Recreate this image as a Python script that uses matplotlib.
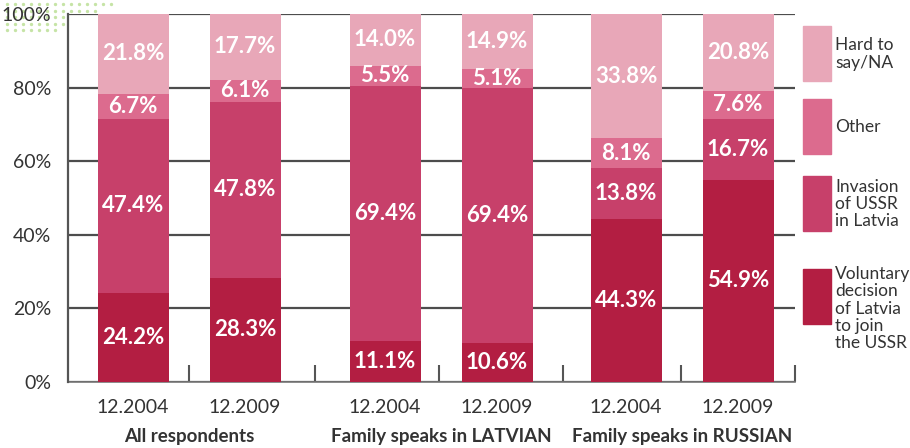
import matplotlib.pyplot as plt
import matplotlib.patches as mpatches
import numpy as np

plt.rcParams['font.family'] = ['Lato', 'DejaVu Sans']

years = ['12.2004', '12.2009', '12.2004', '12.2009', '12.2004', '12.2009']
groups = ['All respondents', 'Family speaks in LATVIAN', 'Family speaks in RUSSIAN']

voluntary = [24.2, 28.3, 11.1, 10.6, 44.3, 54.9]
invasion = [47.4, 47.8, 69.4, 69.4, 13.8, 16.7]
other = [6.7, 6.1, 5.5, 5.1, 8.1, 7.6]
hard = [21.8, 17.7, 14.0, 14.9, 33.8, 20.8]

series = [voluntary, invasion, other, hard]
names = ['Voluntary\ndecision\nof Latvia\nto join\nthe USSR', 'Invasion\nof USSR\nin Latvia', 'Other', 'Hard to\nsay/NA']
colors = ['#b31e42', '#c7406a', '#dc6b8e', '#e8a7b8']

W, H = 910, 448
fig = plt.figure(figsize=(W / 100, H / 100), dpi=100)
ax = fig.add_axes([68 / W, (H - 382) / H, (795 - 68) / W, (382 - 14) / H])

group_x = np.array([121, 373, 614])
pos = np.ravel([[g - 56, g + 56] for g in group_x])
bw = 71

bottom = np.zeros(len(pos))
for vals, c in zip(series, colors):
    vals = np.array(vals)
    ax.bar(pos, vals, bw, bottom=bottom, color=c, zorder=3)
    for x, b, v in zip(pos, bottom, vals):
        ax.text(x, b + v / 2, f'{v:.1f}%', ha='center', va='center', color='white',
                fontsize=16, fontweight='bold', zorder=4)
    bottom += vals

ax.set_xlim(0, 727)
ax.set_ylim(0, 100)
ax.set_yticks([0, 20, 40, 60, 80, 100])
ax.set_yticklabels(['0%', '20%', '40%', '60%', '80%', '100%'], fontsize=14, color='#333333')
ax.tick_params(axis='y', length=0, pad=12)
ax.grid(axis='y', color='#4d4d4d', linewidth=1.6, zorder=1)

ax.set_xticks(pos)
ax.set_xticklabels(years, fontsize=14, color='#333333')
ax.tick_params(axis='x', which='major', length=0, pad=12)
ax.set_xticks([121, 247, 371, 495, 613, 727], minor=True)
ax.tick_params(axis='x', which='minor', direction='in', length=12, width=1.5, color='#555555')

for x, g in zip(group_x, groups):
    ax.text(x, -0.147, g, transform=ax.get_xaxis_transform(), ha='center', va='center',
            fontsize=13.5, fontweight='bold', color='#333333')

for s in ['top', 'right']:
    ax.spines[s].set_visible(False)
ax.spines['left'].set_color('#555555')
ax.spines['left'].set_linewidth(1.6)
ax.spines['bottom'].set_color('#777777')
ax.spines['bottom'].set_linewidth(1.2)
ax.spines['left'].set_zorder(5)

# legend drawn by hand
tops = [26, 99, 176, 269]
for t, c, n in zip(tops, colors[::-1], names[::-1]):
    fig.patches.append(mpatches.Rectangle((803 / W, 1 - (t + 55) / H), 28 / W, 55 / H,
                                          color=c, transform=fig.transFigure))
    if n.startswith('Voluntary'):
        fig.text(835 / W, 1 - (t - 3) / H, n, ha='left', va='top', fontsize=12.5,
                 color='#333333', linespacing=1.1)
    else:
        fig.text(835 / W, 1 - (t + 28) / H, n, ha='left', va='center', fontsize=12.5,
                 color='#333333', linespacing=1.1)

# green dotted decoration in the corner
for yy, x_end in [(4, 113), (11, 100), (17, 66), (24, 66), (30, 60)]:
    xs = np.arange(7, x_end, 8)
    fig.add_artist(plt.Line2D(xs / W, 1 - np.full(len(xs), yy) / H, linestyle='none',
                              marker='o', markersize=1.4, color='#c6e4a6', zorder=0))

fig.savefig('out.png', dpi=100)
